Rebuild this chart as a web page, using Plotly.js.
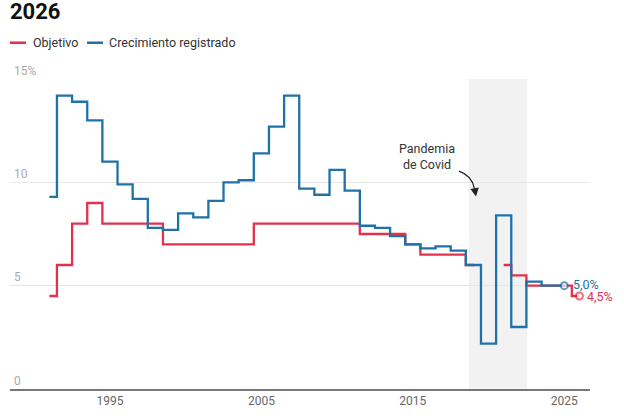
<!DOCTYPE html>
<html>
<head>
<meta charset="utf-8">
<script src="https://cdn.plot.ly/plotly-3.0.1.min.js"></script>
<style>html,body{margin:0;padding:0;background:#fff;}#chart{width:624px;height:416px;}</style>
</head>
<body>
<div id="chart"></div>
<script>
// ---- Data ----
const years = [1991,1992,1993,1994,1995,1996,1997,1998,1999,2000,2001,2002,2003,2004,2005,2006,2007,2008,2009,2010,2011,2012,2013,2014,2015,2016,2017,2018,2019,2020,2021,2022,2023,2024,2025,2026];
const objetivo = [4.5,6,8,9,8,8,8,8,7,7,7,7,7,7,8,8,8,8,8,8,8,7.5,7.5,7.5,7,6.5,6.5,6.5,6,null,6,5.5,5,5,5,4.5];
const crecimiento = [9.3,14.2,13.9,13.0,11.0,9.9,9.2,7.8,7.7,8.5,8.3,9.1,10.0,10.1,11.4,12.7,14.2,9.7,9.4,10.6,9.6,7.9,7.8,7.4,7.0,6.8,6.9,6.7,6.0,2.2,8.4,3.0,5.2,5.0,5.0,null];
const seriesNames = ["Objetivo","Crecimiento registrado"];
const yTickVals = [0,5,10,15];
const yTickText = ["0","5","10","15%"];
const xTickVals = [1995,2005,2015,2025];
const covidLabel = "Pandemia<br>de Covid";

const RED = "#e3304e";
const BLUE = "#1f72a8";

function lastIdx(arr){ for(let i=arr.length-1;i>=0;i--){ if(arr[i]!==null) return i; } return -1; }
function endSizes(arr){ const li = lastIdx(arr); return arr.map((v,i)=> i===li ? 7 : 0); }
function fmt(v){ return v.toFixed(1).replace('.', ',') + '%'; }

const liR = lastIdx(objetivo), liB = lastIdx(crecimiento);

const traces = [
  {
    x: years, y: objetivo, name: seriesNames[0], type: 'scatter', mode: 'lines+markers',
    line: {color: RED, width: 2.3, shape: 'hvh'}, connectgaps: false,
    marker: {size: endSizes(objetivo), color: '#fff', line: {color: RED, width: 2}},
    showlegend: false, hoverinfo: 'skip'
  },
  {
    x: years, y: crecimiento, name: seriesNames[1], type: 'scatter', mode: 'lines+markers',
    line: {color: BLUE, width: 2.3, shape: 'hvh'}, connectgaps: false,
    marker: {size: endSizes(crecimiento), color: '#fff', line: {color: BLUE, width: 2}},
    showlegend: false, hoverinfo: 'skip'
  }
];

// px helpers for paper coords (plot: x 10..590, y 79.3..389.5)
const PL=10, PR=590, PT=79.3, PB=389.5;
const px = v => (v-PL)/(PR-PL);
const py = v => (PB-v)/(PB-PT);

const layout = {
  width: 624, height: 416,
  margin: {l: PL, r: 624-PR, t: PT, b: 416-PB},
  paper_bgcolor: '#fff', plot_bgcolor: '#fff',
  font: {family: 'Roboto, sans-serif', size: 12, color: '#333'},
  title: {text: '<b>2026</b>', x: 10/624, xanchor: 'left', xref: 'container', yref: 'container', y: 1-11/416, yanchor: 'middle',
          font: {family: 'Roboto, sans-serif', size: 22, color: '#111'}},
  showlegend: false,
  xaxis: {
    range: [1988.4, 2026.7], tickvals: xTickVals, ticks: '', showgrid: false, zeroline: false,
    showline: true, linecolor: '#777', linewidth: 1.5,
    tickfont: {family: 'Roboto, sans-serif', size: 12, color: '#666'}, fixedrange: true
  },
  yaxis: {
    range: [0, 15], tickvals: yTickVals, ticktext: yTickText, ticks: '',
    showgrid: true, gridcolor: '#e6e6e6', gridwidth: 1, zeroline: false, showline: false,
    ticklabelposition: 'inside top', ticklabeloverflow: 'allow', ticklabelstandoff: 1,
    tickfont: {family: 'Roboto, sans-serif', size: 12, color: '#aaa'}, fixedrange: true
  },
  shapes: [
    {type: 'rect', xref: 'x', yref: 'y', x0: 2018.7, x1: 2022.55, y0: 0, y1: 15, fillcolor: '#f2f2f2', line: {width: 0}, layer: 'below'},
    // legend swatches
    {type: 'line', xref: 'paper', yref: 'paper', x0: px(10), x1: px(26), y0: py(43), y1: py(43), line: {color: RED, width: 2.5}},
    {type: 'line', xref: 'paper', yref: 'paper', x0: px(87), x1: px(103), y0: py(43), y1: py(43), line: {color: BLUE, width: 2.5}},
    // curved arrow shaft
    {type: 'path', xref: 'paper', yref: 'paper',
     path: `M ${px(459)},${py(171.5)} Q ${px(472)},${py(176)} ${px(474.5)},${py(189)}`,
     line: {color: '#222', width: 1.3}}
  ],
  annotations: [
    {xref: 'paper', yref: 'paper', x: px(31), y: py(43), xanchor: 'left', yanchor: 'middle', text: seriesNames[0], showarrow: false,
     font: {family: 'Roboto, sans-serif', size: 12.5, color: '#333'}},
    {xref: 'paper', yref: 'paper', x: px(107), y: py(43), xanchor: 'left', yanchor: 'middle', text: seriesNames[1], showarrow: false,
     font: {family: 'Roboto, sans-serif', size: 12.5, color: '#333'}},
    {xref: 'paper', yref: 'paper', x: px(427), y: py(156.5), xanchor: 'center', yanchor: 'middle', text: covidLabel, showarrow: false,
     font: {family: 'Roboto, sans-serif', size: 12.5, color: '#333'}},
    {xref: 'paper', yref: 'paper', x: px(476), y: py(197), ax: -1.5, ay: -9, axref: 'pixel', ayref: 'pixel', text: '', showarrow: true,
     arrowhead: 2, arrowsize: 1.3, arrowwidth: 1.3, arrowcolor: '#222'},
    {xref: 'x', yref: 'y', x: years[liB], y: crecimiento[liB], text: fmt(crecimiento[liB]), showarrow: false,
     xanchor: 'left', yanchor: 'middle', xshift: 7, yshift: 1, font: {family: 'Roboto, sans-serif', size: 12.5, color: BLUE}},
    {xref: 'x', yref: 'y', x: years[liR], y: objetivo[liR], text: fmt(objetivo[liR]), showarrow: false,
     xanchor: 'left', yanchor: 'middle', xshift: 6, yshift: 0, font: {family: 'Roboto, sans-serif', size: 12.5, color: RED}}
  ]
};

Plotly.newPlot('chart', traces, layout, {displayModeBar: false, staticPlot: true});
</script>
</body>
</html>
